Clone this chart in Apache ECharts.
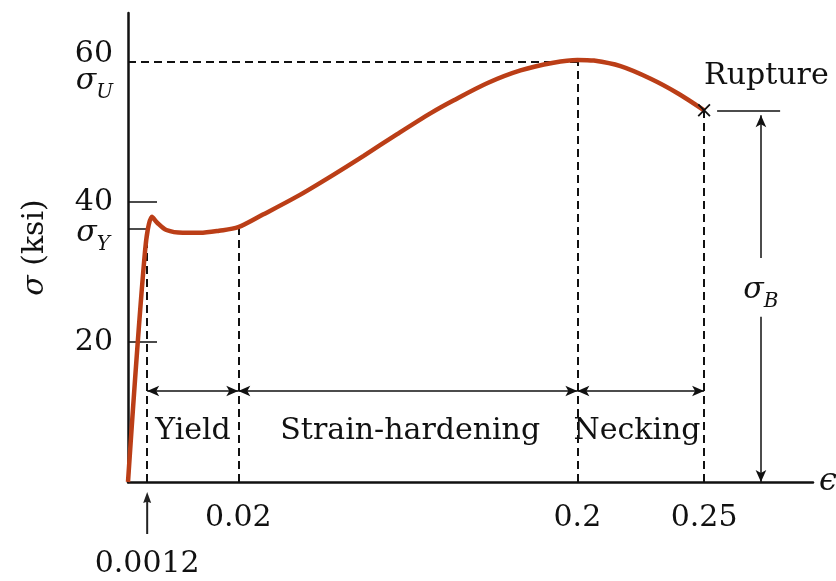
<!DOCTYPE html>
<html>
<head>
<meta charset="utf-8">
<script src="https://cdn.jsdelivr.net/npm/echarts@6/dist/echarts.min.js"></script>
<style>
html, body { margin: 0; padding: 0; background: #fff; }
#chart { width: 836px; height: 581px; }
</style>
</head>
<body>
<div id="chart"></div>
<script>
// strain axis of the figure is schematic (not to scale): points sit on a 0-100
// position scale and the ticks carry the real strain values as labels
const strainLabels = ['0.0012', '0.02', '0.2', '0.25'];
const strainPos = [2.8, 16.1, 65.6, 84.1];

// stress-strain curve (stress in ksi)
const curvePos = [0, 2.5, 3.5, 4.3, 5.6, 8.0, 10.5, 13.3, 16.1, 19.7, 24.7, 29.5, 34.4,
    39.3, 44.2, 47.5, 52.5, 57.3, 62.1, 65.6, 68.0, 71.9, 76.3, 80.3, 84.1];
const curveStress = [0, 33.1, 37.9, 37.0, 36.0, 35.6, 35.6, 35.9, 36.4, 38.2, 40.8, 43.6, 46.6,
    49.7, 52.7, 54.5, 57.0, 58.8, 59.9, 60.3, 60.2, 59.4, 57.6, 55.5, 53.1];

const stressTicks = [20, 40, 60];
const sigmaY = 36.2;
const sigmaU = 60;
const ruptureStress = 53.1;

const regionNames = ['Yield', 'Strain-hardening', 'Necking'];
const regionCenters = [9.5, 41.2, 74.3];
const spanLevel = 13;
const sigmaBPos = 92.4;

const FONT = 'DejaVu Serif';
const INK = '#111';

const dashed = { type: [8, 5], width: 2, color: INK };
const thin = { type: 'solid', width: 1.5, color: INK };

function seg(x1, y1, x2, y2, style) {
    return [{ coord: [x1, y1], lineStyle: style }, { coord: [x2, y2] }];
}

const richSigma = {
    s: { fontFamily: FONT, fontSize: 30, fontStyle: 'italic', color: INK },
    sub: { fontFamily: FONT, fontSize: 20, fontStyle: 'italic', color: INK, padding: [24, 0, 0, 0] }
};

let chart = echarts.init(document.getElementById('chart'));
chart.setOption({
    animation: false,
    grid: { left: 128, right: 23, top: 13, bottom: 99, outerBoundsMode: 'none' },
    xAxis: {
        type: 'value',
        min: 0,
        max: 100,
        name: 'ϵ',
        nameLocation: 'end',
        nameGap: 6,
        nameTextStyle: { fontFamily: FONT, fontSize: 32, fontStyle: 'italic', color: INK, verticalAlign: 'middle' },
        axisLine: { lineStyle: { color: INK, width: 2.5 } },
        axisTick: { show: false },
        splitLine: { show: false },
        axisLabel: {
            customValues: strainPos,
            margin: 21,
            fontFamily: FONT,
            fontSize: 30,
            color: INK,
            formatter: v => {
                const i = strainPos.indexOf(v);
                return i === 0 ? '{low|' + strainLabels[i] + '}' : strainLabels[i];
            },
            rich: {
                low: { fontFamily: FONT, fontSize: 30, color: INK, padding: [46, 0, 0, 0] }
            }
        }
    },
    yAxis: {
        type: 'value',
        min: 0,
        max: 67,
        name: '{s|σ} (ksi)',
        nameLocation: 'middle',
        nameRotate: 90,
        nameGap: 78,
        nameTextStyle: {
            fontFamily: FONT, fontSize: 30, color: INK,
            rich: { s: { fontFamily: FONT, fontSize: 30, fontStyle: 'italic', color: INK } }
        },
        axisLine: { lineStyle: { color: INK, width: 2.5 } },
        axisTick: {
            customValues: [20, 40],
            inside: true,
            length: 29,
            lineStyle: { color: INK, width: 1.5 }
        },
        splitLine: { show: false },
        axisLabel: {
            customValues: stressTicks,
            margin: 15,
            fontFamily: FONT,
            fontSize: 30,
            color: INK,
            formatter: v => v === 60 ? '{up|60}' : String(v),
            rich: { up: { fontFamily: FONT, fontSize: 30, color: INK, padding: [0, 0, 16, 0] } }
        }
    },
    series: [
        {
            name: 'curve',
            type: 'line',
            data: curvePos.map((x, i) => [x, curveStress[i]]),
            smooth: 0.3,
            showSymbol: false,
            lineStyle: { color: '#bb3e17', width: 4.5 },
            z: 5
        },
        {
            name: 'guides',
            type: 'line',
            data: [],
            markLine: {
                silent: true,
                symbol: 'none',
                label: { show: false },
                data: [
                    seg(0, sigmaU, strainPos[2], sigmaU, dashed),
                    seg(strainPos[0], 0, strainPos[0], sigmaY, dashed),
                    seg(strainPos[1], 0, strainPos[1], curveStress[8], dashed),
                    seg(strainPos[2], 0, strainPos[2], sigmaU, dashed),
                    seg(strainPos[3], 0, strainPos[3], ruptureStress, dashed),
                    seg(0, sigmaY, 2.9, sigmaY, thin),
                    seg(86.0, ruptureStress, 95.2, ruptureStress, thin)
                ]
            }
        },
        {
            name: 'spans',
            type: 'line',
            data: [],
            markLine: {
                silent: true,
                symbol: ['arrow', 'arrow'],
                symbolSize: [8, 12],
                label: { show: false },
                lineStyle: { type: 'solid', width: 1.5, color: INK },
                data: [
                    seg(strainPos[0], spanLevel, strainPos[1], spanLevel),
                    seg(strainPos[1], spanLevel, strainPos[2], spanLevel),
                    seg(strainPos[2], spanLevel, strainPos[3], spanLevel)
                ]
            }
        },
        {
            name: 'sigmaB',
            type: 'line',
            data: [],
            markLine: {
                silent: true,
                symbol: ['none', 'arrow'],
                symbolSize: [8, 12],
                label: { show: false },
                lineStyle: { type: 'solid', width: 1.5, color: INK },
                data: [
                    seg(sigmaBPos, 32, sigmaBPos, 52.4),
                    seg(sigmaBPos, 23.6, sigmaBPos, 0)
                ]
            }
        },
        {
            name: 'rupture',
            type: 'scatter',
            clip: false,
            silent: true,
            symbol: 'path://M0,1 L1,0 L5,4 L9,0 L10,1 L6,5 L10,9 L9,10 L5,6 L1,10 L0,9 L4,5 Z',
            symbolSize: 13,
            itemStyle: { color: INK, opacity: 1 },
            data: [[strainPos[3], ruptureStress]],
            z: 6
        },
        {
            name: 'strainArrow',
            type: 'scatter',
            clip: false,
            silent: true,
            symbol: 'path://M4,0 L8,11 L5,10 L5,42 L3,42 L3,10 L0,11 Z',
            symbolSize: [8, 42],
            symbolOffset: [0, 31],
            itemStyle: { color: '#222', opacity: 1 },
            data: [[strainPos[0], 0]]
        },
        {
            name: 'notes',
            type: 'scatter',
            clip: false,
            silent: true,
            symbolSize: 0,
            itemStyle: { opacity: 1 },
            label: {
                show: true,
                position: 'inside',
                formatter: '{b}',
                fontFamily: FONT,
                fontSize: 30,
                color: INK,
                opacity: 1,
                rich: richSigma
            },
            data: regionNames.map((n, i) => ({ name: n, value: [regionCenters[i], 7.3] })).concat([
                { name: 'Rupture', value: [strainPos[3], 58.0], label: { position: 'right', distance: 0 } },
                { name: 'sB', value: [sigmaBPos, 27.4], label: { formatter: '{s|σ}{sub|B}' } },
                { name: 'sU', value: [0, 57.3], label: { position: 'left', distance: 15, formatter: '{s|σ}{sub|U}' } },
                { name: 'sY', value: [0, 35.6], label: { position: 'left', distance: 18, formatter: '{s|σ}{sub|Y}' } }
            ]),
            z: 7
        }
    ]
});
</script>
</body>
</html>
